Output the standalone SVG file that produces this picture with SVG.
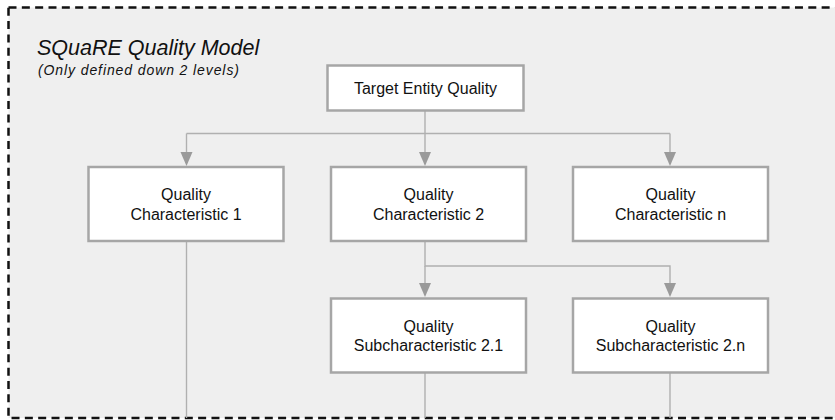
<svg xmlns="http://www.w3.org/2000/svg" width="835" height="420" viewBox="0 0 835 420">
  <defs>
    <style>
      .frame { fill: #efefef; stroke: #111; stroke-width: 2.5; stroke-dasharray: 8 5.33; }
      .box { fill: #fff; stroke: #a6a6a6; stroke-width: 2.5; }
      .lbl { font-family: "Liberation Sans", Arial, sans-serif; font-size: 16px; fill: #111; text-anchor: middle; }
      .title { font-family: "Liberation Sans", Arial, sans-serif; font-style: italic; fill: #111; }
      .conn { fill: none; stroke: #b0b0b0; stroke-width: 1.4; }
    </style>
    <marker id="arr" markerUnits="userSpaceOnUse" markerWidth="12" markerHeight="14" refX="6" refY="13" orient="auto-start-reverse" viewBox="0 0 12 14">
      <path d="M0.5,0 L11.5,0 L6,13 Z" fill="#9a9a9a" transform="rotate(0)"/>
    </marker>
  </defs>

  <rect class="frame" x="8.5" y="7.5" width="840" height="410.5"/>

  <text class="title" x="37" y="55" font-size="21.5">SQuaRE Quality Model</text>
  <text class="title" x="38" y="75" font-size="14" letter-spacing="0.9">(Only defined down 2 levels)</text>

  <g id="connectors">
    <path class="conn" d="M425,111 V133.5"/>
    <path class="conn" d="M186.5,133.5 H670"/>
    <path class="conn" d="M186.5,133.5 V153"/>
    <path class="conn" d="M425,133.5 V153"/>
    <path class="conn" d="M670,133.5 V153"/>
    <path class="conn" d="M425,241 V266 H670 V284"/>
    <path class="conn" d="M425,266 V284"/>
    <path class="conn" d="M186.5,241 V418"/>
    <path class="conn" d="M425,372.5 V418"/>
    <path class="conn" d="M670,372.5 V418"/>
    <g fill="#9a9a9a">
      <path d="M180.5,152 L192.5,152 L186.5,166 Z"/>
      <path d="M419,152 L431,152 L425,166 Z"/>
      <path d="M664,152 L676,152 L670,166 Z"/>
      <path d="M419,283 L431,283 L425,297 Z"/>
      <path d="M664,283 L676,283 L670,297 Z"/>
    </g>
  </g>

  <g id="target">
    <rect class="box" x="327.5" y="65.5" width="196" height="45"/>
    <text class="lbl" x="425.5" y="94">Target Entity Quality</text>
  </g>
  <g id="char1">
    <rect class="box" x="88.5" y="167" width="195" height="74"/>
    <text class="lbl" x="186" y="200">Quality</text>
    <text class="lbl" x="186" y="219.5">Characteristic 1</text>
  </g>
  <g id="char2">
    <rect class="box" x="331" y="167" width="195" height="74"/>
    <text class="lbl" x="428.5" y="200">Quality</text>
    <text class="lbl" x="428.5" y="219.5">Characteristic 2</text>
  </g>
  <g id="charn">
    <rect class="box" x="573" y="167" width="195" height="74"/>
    <text class="lbl" x="670.5" y="200">Quality</text>
    <text class="lbl" x="670.5" y="219.5">Characteristic n</text>
  </g>
  <g id="sub21">
    <rect class="box" x="331" y="298.5" width="195" height="74"/>
    <text class="lbl" x="428.5" y="331.5">Quality</text>
    <text class="lbl" x="428.5" y="351">Subcharacteristic 2.1</text>
  </g>
  <g id="sub2n">
    <rect class="box" x="573" y="298.5" width="195" height="74"/>
    <text class="lbl" x="670.5" y="331.5">Quality</text>
    <text class="lbl" x="670.5" y="351">Subcharacteristic 2.n</text>
  </g>
</svg>
